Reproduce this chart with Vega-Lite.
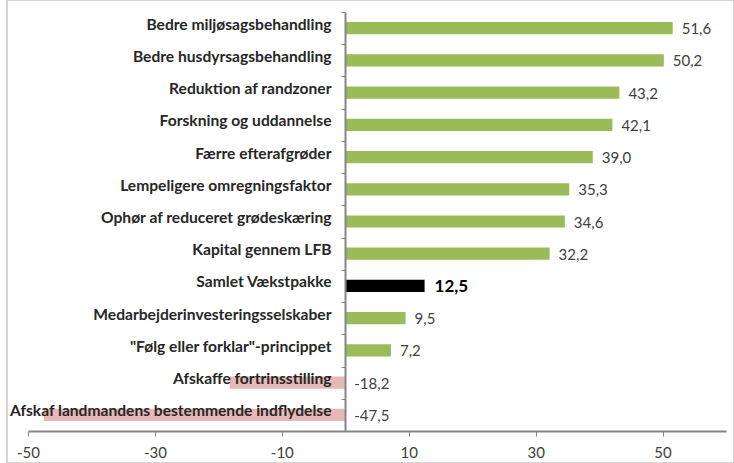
{
  "$schema": "https://vega.github.io/schema/vega-lite/v6.json",
  "width": 727,
  "height": 463,
  "autosize": {"type": "none"},
  "padding": {"left": 7, "top": 0, "right": 0, "bottom": 0},
  "config": {
    "view": {"stroke": "#c8c8c8", "strokeWidth": 1.5},
    "font": "Lato",
    "locale": {"number": {"decimal": ",", "thousands": ".", "grouping": [3], "currency": ["", " kr."], "minus": "-"}}
  },
  "data": {
    "values": [
      {"measure": "Bedre miljøsagsbehandling", "value": 51.6, "kind": "pos"},
      {"measure": "Bedre husdyrsagsbehandling", "value": 50.2, "kind": "pos"},
      {"measure": "Reduktion af randzoner", "value": 43.2, "kind": "pos"},
      {"measure": "Forskning og uddannelse", "value": 42.1, "kind": "pos"},
      {"measure": "Færre efterafgrøder", "value": 39.0, "kind": "pos"},
      {"measure": "Lempeligere omregningsfaktor", "value": 35.3, "kind": "pos"},
      {"measure": "Ophør af reduceret grødeskæring", "value": 34.6, "kind": "pos"},
      {"measure": "Kapital gennem LFB", "value": 32.2, "kind": "pos"},
      {"measure": "Samlet Vækstpakke", "value": 12.5, "kind": "total"},
      {"measure": "Medarbejderinvesteringsselskaber", "value": 9.5, "kind": "pos"},
      {"measure": "\"Følg eller forklar\"-princippet", "value": 7.2, "kind": "pos"},
      {"measure": "Afskaffe fortrinsstilling", "value": -18.2, "kind": "neg"},
      {"measure": "Afskaf landmandens bestemmende indflydelse", "value": -47.5, "kind": "neg"}
    ]
  },
  "transform": [{"calculate": "max(datum.value, 0)", "as": "labelPos"}],
  "encoding": {
    "y": {
      "field": "measure",
      "type": "nominal",
      "sort": null,
      "scale": {"range": [12, 431], "paddingInner": 0, "paddingOuter": 0},
      "axis": {
        "title": null,
        "offset": -338,
        "tickBand": "extent",
        "domainColor": "#868686",
        "domainWidth": 2,
        "tickColor": "#868686",
        "tickWidth": 1,
        "tickSize": 4,
        "labelPadding": 10,
        "labelFont": "Lato",
        "labelFontSize": 15.6,
        "labelFontWeight": "bold",
        "labelColor": "#262626",
        "labelLimit": 400,
        "labelOffset": -4,
        "zindex": 2
      }
    }
  },
  "layer": [
    {
      "mark": {"type": "bar", "height": {"band": 0.38}},
      "encoding": {
        "x": {
          "field": "value",
          "type": "quantitative",
          "scale": {"domain": [-50, 60], "range": [21, 719], "nice": false, "zero": false},
          "axis": {
            "title": null,
            "values": [-50, -30, -10, 10, 30, 50],
            "format": "d",
            "offset": -32,
            "grid": false,
            "domainColor": "#868686",
            "domainWidth": 2,
            "tickColor": "#868686",
            "tickSize": 5,
            "labelFont": "Lato",
            "labelFontSize": 15,
            "labelColor": "#404040",
            "labelPadding": 9,
            "labelFlush": false
          }
        },
        "x2": {"datum": 0},
        "color": {
          "field": "kind",
          "type": "nominal",
          "scale": {"domain": ["pos", "total", "neg"], "range": ["#9BBB59", "#000000", "#E6B9B8"]},
          "legend": null
        }
      }
    },
    {
      "transform": [{"filter": "datum.kind != 'total'"}],
      "mark": {"type": "text", "align": "left", "baseline": "middle", "dx": 9, "dy": 1, "fontSize": 15, "font": "Lato", "color": "#404040"},
      "encoding": {
        "x": {"field": "labelPos", "type": "quantitative"},
        "text": {"field": "value", "type": "quantitative", "format": ".1f"}
      }
    },
    {
      "transform": [{"filter": "datum.kind == 'total'"}],
      "mark": {"type": "text", "align": "left", "baseline": "middle", "dx": 10, "dy": 1, "fontSize": 17, "fontWeight": "bold", "font": "Lato", "color": "#000000"},
      "encoding": {
        "x": {"field": "labelPos", "type": "quantitative"},
        "text": {"field": "value", "type": "quantitative", "format": ".1f"}
      }
    }
  ]
}
